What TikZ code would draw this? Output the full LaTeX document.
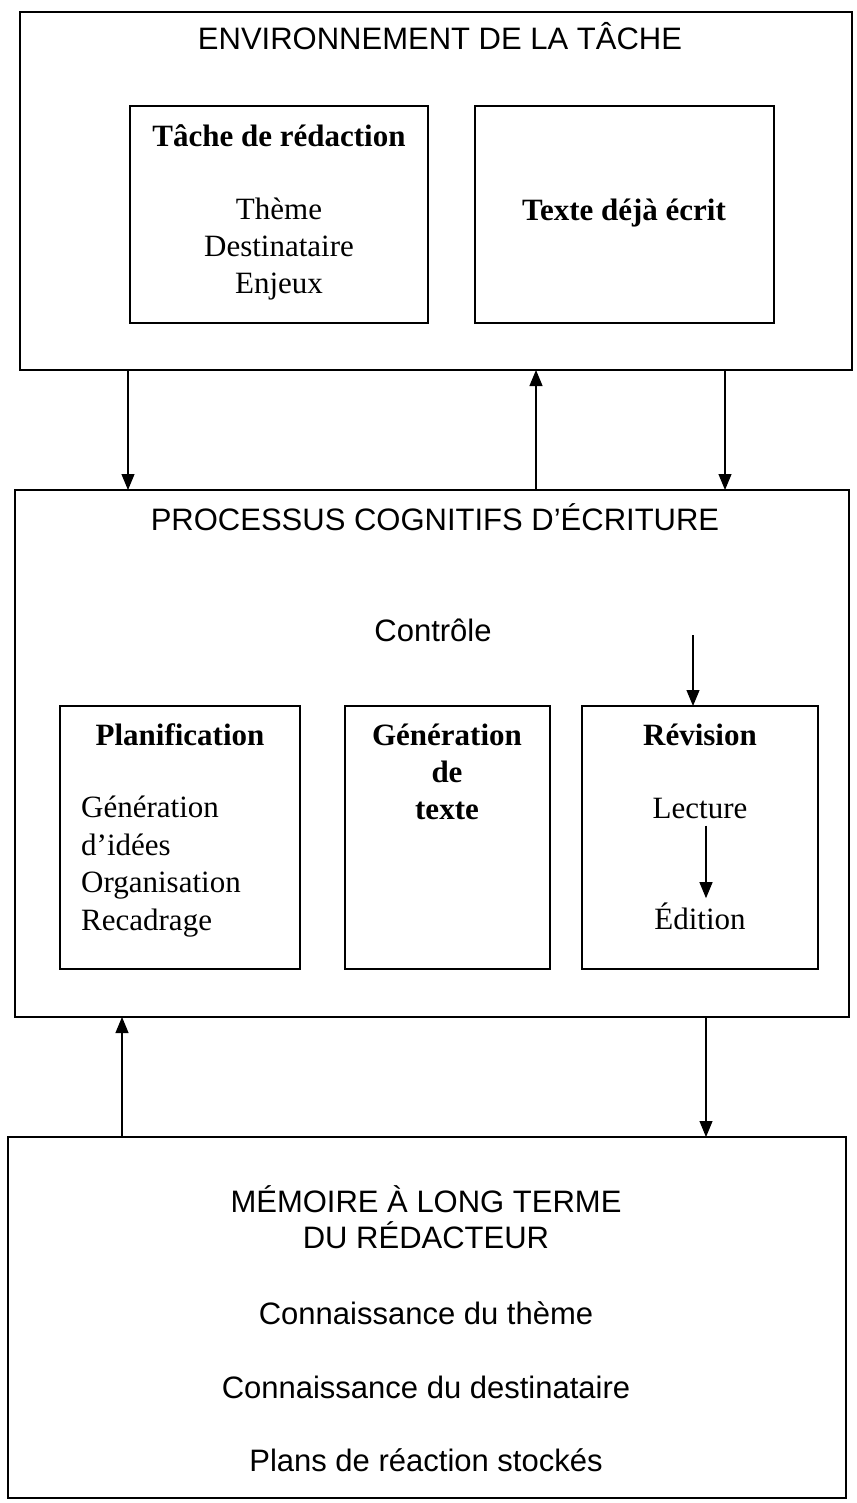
\documentclass[tikz,border=0pt]{standalone}
\usepackage{fontspec}
\setmainfont{Liberation Serif}
\setsansfont{Liberation Sans}
\usetikzlibrary{arrows.meta}
\begin{document}
\begin{tikzpicture}[x=1pt,y=1pt,
  box/.style={draw, line width=1.4pt, inner sep=0pt, outer sep=0pt, anchor=north west},
  sanstxt/.style={font=\sffamily\fontsize{31}{36}\selectfont, inner sep=0pt, anchor=base},
  seriftxt/.style={font=\rmfamily\fontsize{31}{37.4}\selectfont, inner sep=0pt, anchor=base},
  boldtxt/.style={font=\rmfamily\bfseries\fontsize{31}{37}\selectfont, inner sep=0pt, anchor=base},
  arr/.style={line width=1.1pt, -{Triangle[length=16pt,width=13pt]}}]
\useasboundingbox (0,0) rectangle (856,-1503);
% boxes
\node[box, minimum width=832pt, minimum height=358pt] (env) at (20,-12) {};
\node[box, minimum width=298pt, minimum height=217pt] (tache) at (130,-106) {};
\node[box, minimum width=299pt, minimum height=217pt] (texte) at (475,-106) {};
\node[box, minimum width=834pt, minimum height=527pt] (proc) at (15,-490) {};
\node[box, minimum width=240pt, minimum height=263pt] (plan) at (60,-706) {};
\node[box, minimum width=205pt, minimum height=263pt] (gen) at (345,-706) {};
\node[box, minimum width=236pt, minimum height=263pt] (rev) at (582,-706) {};
\node[box, minimum width=838pt, minimum height=361pt] (mem) at (8,-1137) {};
% texts, top (multi-line nodes: base = baseline of last line)
\node[sanstxt] (envt) at (440,-50) {ENVIRONNEMENT DE LA TÂCHE};
\node[boldtxt] (tachet) at (279,-147) {Tâche de rédaction};
\node[seriftxt, align=center] (tachel) at (279,-294) {Thème\\Destinataire\\Enjeux};
\node[boldtxt] (textet) at (624,-221) {Texte déjà écrit};
% texts, middle
\node[sanstxt] (proct) at (435,-530) {PROCESSUS COGNITIFS D’ÉCRITURE};
\node[sanstxt] (ctrl) at (433,-641) {Contrôle};
\node[boldtxt] (plant) at (180,-745) {Planification};
\node[seriftxt, align=left, anchor=base west] (planl) at (81,-930) {Génération\\d’idées\\Organisation\\Recadrage};
\node[boldtxt, align=center] (gent) at (447,-819) {Génération\\de\\texte};
\node[boldtxt] (revt) at (700,-745) {Révision};
\node[seriftxt] (lect) at (700,-818) {Lecture};
\node[seriftxt] (edit) at (700,-929) {Édition};
% texts, bottom
\node[sanstxt, align=center] (memt) at (426,-1248) {MÉMOIRE À LONG TERME\\DU RÉDACTEUR};
\node[sanstxt] (mem1) at (426,-1324) {Connaissance du thème};
\node[sanstxt] (mem2) at (426,-1398) {Connaissance du destinataire};
\node[sanstxt] (mem3) at (426,-1471) {Plans de réaction stockés};
% connectors
\draw[arr] (env.south -| 128,0) -- (proc.north -| 128,0);
\draw[arr] (proc.north -| 536,0) -- (env.south -| 536,0);
\draw[arr] (env.south -| 725,0) -- (proc.north -| 725,0);
\coordinate (ctrlin) at (693,-635);
\draw[arr] (ctrlin) -- (rev.north -| ctrlin);
\draw[arr, shorten <=7pt, shorten >=4pt] (lect.south -| 706,0) -- (edit.north -| 706,0);
\draw[arr] (mem.north -| 122,0) -- (proc.south -| 122,0);
\draw[arr] (proc.south -| 706,0) -- (mem.north -| 706,0);
\end{tikzpicture}
\end{document}
